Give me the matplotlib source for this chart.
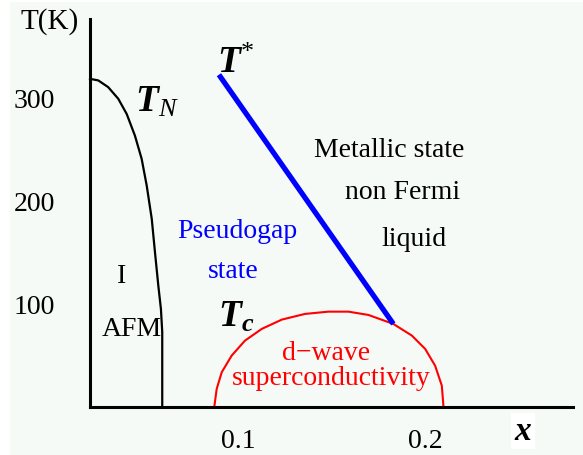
import matplotlib
matplotlib.use("Agg")
import matplotlib.pyplot as plt
from matplotlib.patches import Rectangle

plt.rcParams['font.family'] = ['Liberation Serif', 'DejaVu Serif']
plt.rcParams['mathtext.fontset'] = 'custom'
plt.rcParams['mathtext.rm'] = 'Liberation Serif'
plt.rcParams['mathtext.it'] = 'Liberation Serif:italic'
plt.rcParams['mathtext.bf'] = 'Liberation Serif:bold'
plt.rcParams['mathtext.bfit'] = 'Liberation Serif:italic:bold'

# Neel temperature boundary (AFM insulator)
tn_x = [0.0209, 0.0253, 0.0306, 0.0360, 0.0405, 0.0449, 0.0485, 0.0512,
        0.0539, 0.0556, 0.0574, 0.0588, 0.0595, 0.0595]
tn_T = [318, 316.5, 310, 298.7, 284, 263, 240.5, 214.6, 182.3, 150.3,
        117.7, 95, 72.7, 0]

# superconducting dome Tc(x)
tc_x = [0.0873, 0.0886, 0.0913, 0.0966, 0.1037, 0.1127, 0.1234, 0.1358,
        0.1483, 0.1590, 0.1697, 0.1830, 0.1929, 0.2000, 0.2053, 0.2089, 0.2098]
tc_T = [0, 17.5, 33.7, 49.8, 64.3, 75.7, 84.7, 90.2, 92.4, 92.4, 89.2,
        80.5, 69.2, 56.3, 40.1, 20.7, 0]

# pseudogap line T*
ts_x = [0.0898, 0.1830]
ts_T = [322, 80.5]

x_ticks = [0.1, 0.2]
x_labels = ['0.1', '0.2']
y_ticks = [100, 200, 300]
y_labels = ['100', '200', '300']

W, H = 583, 456
fig = plt.figure(figsize=(W / 100, H / 100), dpi=100, facecolor='white')
fig.patches.append(Rectangle((10 / W, 0), 1 - 10 / W, 1 - 3 / H,
                             transform=fig.transFigure, facecolor='#f6faf7',
                             edgecolor='none', zorder=-1))

ax = fig.add_axes([90 / W, 48 / H, 483 / W, 388 / H])
ax.set_facecolor('none')
ax.set_xlim(0.0209, 0.279)
ax.set_ylim(0, 376)

for s in ['top', 'right']:
    ax.spines[s].set_visible(False)
for s in ['left', 'bottom']:
    ax.spines[s].set_linewidth(2.2)
    ax.spines[s].set_color('black')

ax.set_xticks(x_ticks, x_labels)
ax.set_yticks(y_ticks, y_labels)
ax.tick_params(axis='both', length=0, labelsize=20)
ax.tick_params(axis='y', pad=25)
ax.tick_params(axis='x', pad=15)

ax.plot(tn_x, tn_T, color='black', lw=1.6, clip_on=False, solid_joinstyle='round')
ax.plot(tc_x, tc_T, color='#ff0000', lw=1.5, clip_on=False, solid_joinstyle='round')
ax.plot(ts_x, ts_T, color='#0000ff', lw=3.8, solid_capstyle='butt')

# phase labels
fs = 20
ax.text(0.1807, 250, 'Metallic state', fontsize=fs, ha='center', va='center')
ax.text(0.1882, 208.5, 'non Fermi', fontsize=fs, ha='center', va='center')
ax.text(0.1941, 163, 'liquid', fontsize=fs, ha='center', va='center')
ax.text(0.0995, 171, 'Pseudogap', fontsize=fs, ha='center', va='center', color='#0000ff')
ax.text(0.0973, 132, 'state', fontsize=fs, ha='center', va='center', color='#0000ff')
ax.text(0.038, 127, 'I', fontsize=fs, ha='center', va='center')
ax.text(0.0433, 76, 'AFM', fontsize=fs, ha='center', va='center')
ax.text(0.147, 53, 'd\u2212wave', fontsize=fs, ha='center', va='center', color='#ff0000')
ax.text(0.150, 29, 'superconductivity', fontsize=fs, ha='center', va='center', color='#ff0000')

ax.text(0.0449, 287, r'$\mathbfit{T}_{\mathit{N}}$', fontsize=27, ha='left', va='baseline')
ax.text(0.0888, 325, r'$\mathbfit{T}^{*}$', fontsize=27, ha='left', va='baseline')
ax.text(0.0893, 78.6, r'$\mathbfit{T}_{\mathbfit{c}}$', fontsize=27, ha='left', va='baseline')

fig.text(50 / W, 1 - 22 / H, 'T(K)', fontsize=21, ha='center', va='center')
fig.text(523 / W, 1 - 432 / H, r'$\mathbfit{x}$', fontsize=24, ha='center', va='center',
         bbox=dict(facecolor='white', edgecolor='none', pad=2))

fig.savefig('out.png', dpi=100, facecolor=fig.get_facecolor())
